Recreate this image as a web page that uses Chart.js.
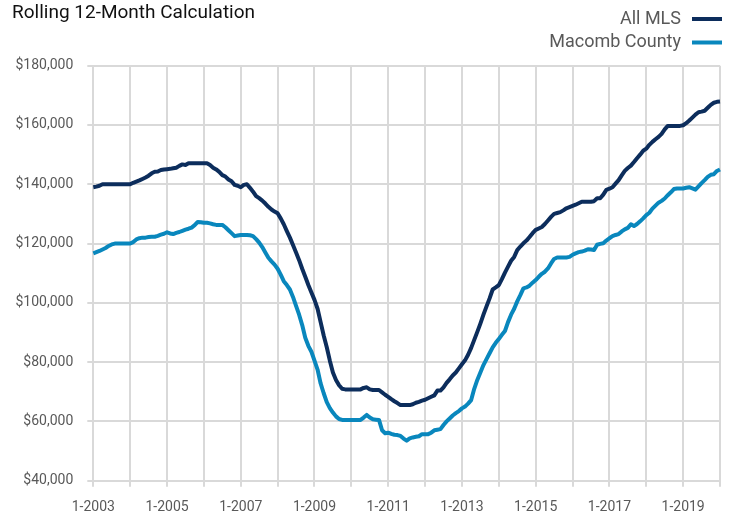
<!DOCTYPE html>
<html>
<head>
<meta charset="utf-8">
<script src="https://cdn.jsdelivr.net/npm/chart.js@4/dist/chart.umd.min.js"></script>
<style>
html,body{margin:0;padding:0;background:#fff;}
#wrap{position:relative;width:732px;height:515px;}
</style>
</head>
<body>
<div id="wrap"><canvas id="c" width="732" height="515"></canvas></div>
<script>
const titleText = 'Rolling 12-Month Calculation';
const seriesNames = ['All MLS', 'Macomb County'];
const seriesColors = ['#0c2d5c', '#0987bd'];

// Monthly categories 1-2003 ... 1-2020
const months = [];
for (let y = 2003; y <= 2020; y++) {
  for (let m = 1; m <= 12; m++) {
    if (y === 2020 && m > 1) break;
    months.push(m + '-' + y);
  }
}
const tickLabels = ['1-2003','1-2005','1-2007','1-2009','1-2011','1-2013','1-2015','1-2017','1-2019'];
const yTicks = [40000, 60000, 80000, 100000, 120000, 140000, 160000, 180000];

const allMLS = [
  139000,139200,139500,140000,140000,140000,140000,140000,140000,140000,140000,140000,
  140000,140500,140900,141300,141800,142300,142900,143700,144200,144300,144800,145000,
  145100,145200,145400,145600,146200,146700,146500,147100,147100,147100,147100,147100,
  147100,147100,146500,145600,145000,144200,143100,142600,141600,141000,139800,139500,
  139000,139800,140000,138800,137500,136000,135300,134500,133500,132400,131500,130800,
  130200,128500,126500,124200,122000,119500,117000,114400,111500,108800,106000,103500,
  101000,98000,93500,89000,85000,80500,76500,74000,72200,71000,70800,70800,
  70800,70800,70800,70800,71300,71500,70800,70600,70600,70600,69800,69000,
  68300,67500,66800,66200,65500,65500,65500,65500,65800,66300,66600,67000,
  67300,67800,68300,68800,70400,70400,71500,73000,74200,75500,76500,77900,
  79300,80600,82500,84800,87500,90200,93000,96000,98800,101500,104500,105200,
  106000,108000,110200,112200,114200,115500,117800,119000,120100,121000,122200,123500,
  124600,125100,125600,126600,127800,129000,130000,130300,130600,131200,131900,132300,
  132700,133100,133600,134100,134100,134100,134100,134300,135300,135300,136500,138100,
  138500,139000,140200,141400,143000,144500,145500,146300,147500,148800,150000,151300,
  152000,153300,154300,155200,156000,157000,158500,159700,159700,159700,159700,159700,
  159900,160600,161500,162500,163500,164300,164500,164800,165800,166800,167500,167800,
  167900
];
const macomb = [
  116700,117100,117500,118000,118500,119200,119700,120000,120000,120000,120000,120000,
  120000,120500,121400,121800,122000,122000,122200,122300,122300,122600,123000,123300,
  123800,123400,123200,123600,123900,124300,124700,125000,125400,126200,127300,127200,
  127000,127000,126800,126500,126300,126300,126300,125500,124500,123500,122500,122700,
  122900,122900,122900,122800,122500,121500,120300,118800,117000,115200,114000,112900,
  111500,109500,107300,106000,104500,102000,99000,96000,92500,88200,85500,83500,
  80500,77500,72800,69500,66500,64500,63000,61700,60800,60500,60500,60500,
  60500,60500,60500,60500,61300,62200,61300,60700,60600,60500,57000,56000,
  56200,55800,55500,55400,55100,54200,53500,54300,54600,54800,55000,55700,
  55700,55700,56200,57000,57200,57400,58800,60000,61000,62000,62800,63500,
  64400,65000,66000,67200,71000,74000,76500,79000,81000,83000,85000,86500,
  87800,89200,90500,93500,96000,98000,100500,102600,104900,105200,105800,106800,
  107700,108800,109800,110500,111600,113300,114800,115300,115300,115300,115300,115500,
  116200,116700,117100,117300,117600,118100,118000,117800,119600,119900,120100,121000,
  121800,122500,122900,123200,124100,124800,125300,126500,125900,126600,127500,128500,
  129600,130400,131800,132800,133800,134400,135200,136300,137300,138400,138600,138600,
  138600,138800,139000,138600,138200,139300,140400,141400,142500,143200,143400,144500,
  145000
];

const GRID = '#d9d9d9';
const TEXT = '#595959';

const customLegend = {
  id: 'customLegend',
  afterDraw(chart) {
    const ctx = chart.ctx;
    ctx.save();
    ctx.font = '18px Roboto';
    ctx.textAlign = 'right';
    ctx.textBaseline = 'middle';
    const ys = [19, 42.5];
    chart.data.datasets.forEach((ds, i) => {
      ctx.fillStyle = TEXT;
      ctx.fillText(ds.label, 681, ys[i]);
      ctx.strokeStyle = ds.borderColor;
      ctx.lineWidth = 4;
      ctx.beginPath();
      ctx.moveTo(692, ys[i]);
      ctx.lineTo(722, ys[i]);
      ctx.stroke();
    });
    ctx.restore();
  }
};

new Chart(document.getElementById('c'), {
  type: 'line',
  data: {
    labels: months,
    datasets: [
      { label: seriesNames[0], data: allMLS, borderColor: seriesColors[0], backgroundColor: seriesColors[0], borderWidth: 4, pointRadius: 0, tension: 0, borderJoinStyle: 'round' },
      { label: seriesNames[1], data: macomb, borderColor: seriesColors[1], backgroundColor: seriesColors[1], borderWidth: 4, pointRadius: 0, tension: 0, borderJoinStyle: 'round' }
    ]
  },
  options: {
    responsive: false,
    animation: false,
    devicePixelRatio: 1,
    layout: { padding: { left: 12, right: 10, top: 0, bottom: 0 } },
    plugins: {
      legend: { display: false },
      tooltip: { enabled: false },
      title: {
        display: true,
        text: titleText,
        align: 'start',
        color: '#111',
        font: { family: 'Roboto', size: 19, weight: 'normal', lineHeight: 1.2 },
        padding: { top: 1.5, bottom: 41.4 }
      }
    },
    scales: {
      x: {
        type: 'category',
        offset: false,
        afterFit(scale) { scale.height = 34.3; },
        border: { display: false },
        grid: {
          offset: false,
          lineWidth: 2,
          tickLength: 6,
          color: (c) => (months[c.index] && months[c.index].startsWith('1-')) ? GRID : 'rgba(0,0,0,0)'
        },
        ticks: {
          autoSkip: false,
          maxRotation: 0,
          minRotation: 0,
          padding: 12,
          color: TEXT,
          font: { family: 'Roboto', size: 14 },
          callback: function (v, i) { return tickLabels.includes(months[i]) ? months[i] : ''; }
        }
      },
      y: {
        min: yTicks[0],
        max: yTicks[yTicks.length - 1],
        afterFit(scale) { scale.width = 81.3; },
        afterBuildTicks(scale) { scale.ticks = yTicks.map(v => ({ value: v })); },
        border: { display: false },
        grid: { color: GRID, lineWidth: 2, tickLength: 6 },
        ticks: {
          padding: 14,
          color: TEXT,
          font: { family: 'Roboto', size: 14 },
          callback: (v) => '$' + Number(v).toLocaleString('en-US')
        }
      }
    }
  },
  plugins: [customLegend]
});
</script>
</body>
</html>
